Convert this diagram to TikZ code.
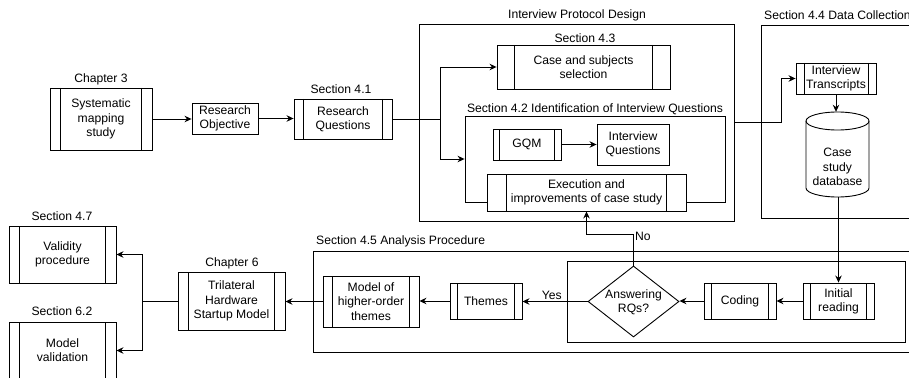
\documentclass[tikz,border=0pt]{standalone}
\usepackage{fontspec}
\setmainfont{Liberation Sans}
\usetikzlibrary{arrows.meta,calc,shapes.geometric}

\tikzset{
  every node/.style={font=\fontsize{12.15}{14.2}\selectfont},
  plainbox/.style={draw=black, fill=white, line width=0.9pt, align=center, inner sep=0pt},
  procbox/.style={plainbox, path picture={
      \draw[line width=0.9pt]
        ($(path picture bounding box.north west)!0.1!(path picture bounding box.north east)$) --
        ($(path picture bounding box.south west)!0.1!(path picture bounding box.south east)$)
        ($(path picture bounding box.north west)!0.9!(path picture bounding box.north east)$) --
        ($(path picture bounding box.south west)!0.9!(path picture bounding box.south east)$);
    }},
  frame/.style={draw=black, line width=0.9pt, inner sep=0pt},
  caption/.style={inner sep=0pt},
  wire/.style={line width=0.9pt},
  arr/.style={wire, -{Stealth[length=7pt,width=6.5pt]}},
}

\begin{document}
\begin{tikzpicture}[x=1pt,y=-1pt]
\useasboundingbox (0,0) rectangle (909,377);
\clip (0,0) rectangle (909,377);

% ---- container frames ----
\node[frame, minimum width=315, minimum height=197] (ipd) at (576.5,122.5) {};
\node[caption] (ipdlab) at (577,15) {Interview Protocol Design};
\node[frame, minimum width=260, minimum height=86] (s42) at (595,159) {};
\node[caption] (s42lab) at (595,109) {Section 4.2 Identification of Interview Questions};
\draw[wire] (930,25) -- (761,25) -- (761,218) -- (930,218);
\node[caption, anchor=west] (dclab) at (764,15) {Section 4.4 Data Collection};
\draw[wire] (930,251) -- (313,251) -- (313,352) -- (930,352);
\node[caption, anchor=west] (s45lab) at (316,241) {Section 4.5 Analysis Procedure};
\node[frame, minimum width=338, minimum height=81] (loop) at (736,301.5) {};

% ---- steps ----
\node[procbox, minimum width=102, minimum height=62] (sms) at (101,119) {Systematic\\mapping\\study};
\node[caption] (smslab) at (101,79) {Chapter 3};
\node[plainbox, minimum width=66, minimum height=31] (ro) at (225,118.5) {Research\\Objective};
\node[procbox, minimum width=98, minimum height=40] (rq) at (343,119) {Research\\Questions};
\node[caption] (rqlab) at (341,89) {Section 4.1};

\node[procbox, minimum width=173, minimum height=44] (case) at (583.5,67) {Case and subjects\\selection};
\node[caption] (caselab) at (585,38) {Section 4.3};
\node[procbox, minimum width=68, minimum height=31] (gqm) at (527,144.5) {GQM};
\node[plainbox, minimum width=72, minimum height=41] (iq) at (633,144.5) {Interview\\Questions};
\node[procbox, minimum width=199, minimum height=37] (exe) at (586.5,192.5) {Execution and\\improvements of case study};

\node[procbox, minimum width=80, minimum height=31] (it) at (836,78.5) {Interview\\Transcripts};
% database cylinder
\node[inner sep=0pt, minimum width=63, minimum height=85] (db) at (837.5,154.5) {};
\draw[wire, fill=white] (806,121) -- (806,188) arc[start angle=180, end angle=0, x radius=31.5, y radius=9]
  -- (869,121) arc[start angle=0, end angle=-180, x radius=31.5, y radius=9] -- cycle;
\draw[wire] (806,121) arc[start angle=180, end angle=0, x radius=31.5, y radius=9];
\node[align=center, inner sep=0pt] (dbtext) at (837.5,167) {Case\\study\\database};

\node[procbox, minimum width=71, minimum height=36] (ir) at (838.5,301) {Initial\\reading};
\node[procbox, minimum width=72, minimum height=36] (coding) at (740,301) {Coding};
\node[diamond, draw=black, fill=white, line width=0.9pt, inner sep=0pt, minimum width=91, minimum height=71] (ans) at (633.5,301.5) {};
\node[align=center, inner sep=0pt] (anstext) at (633.5,302) {Answering\\RQs?};
\node[procbox, minimum width=72, minimum height=36] (themes) at (486,301) {Themes};
\node[procbox, minimum width=96, minimum height=51] (mho) at (371,301.5) {Model of\\higher-order\\themes};

\node[procbox, minimum width=107, minimum height=58] (tri) at (231.5,301) {Trilateral\\Hardware\\Startup Model};
\node[caption] (trilab) at (232,263) {Chapter 6};
\node[procbox, minimum width=107, minimum height=57] (vp) at (62.5,254.5) {Validity\\procedure};
\node[caption] (vplab) at (62,216) {Section 4.7};
\node[procbox, minimum width=107, minimum height=57] (mv) at (62.5,350.5) {Model\\validation};
\node[caption] (mvlab) at (62,311) {Section 6.2};

% ---- connectors ----
\draw[arr] (sms.east) -- (sms.east -| ro.west);
\draw[arr] (ro.east) -- (ro.east -| rq.west);
\coordinate (split1) at (440,119);
\draw[wire] (rq.east) -- (split1);
\draw[arr] (split1) |- (case.west);
\draw[arr] (split1) |- (s42.west);
\draw[arr] (gqm.east) -- (gqm.east -| iq.west);

\coordinate (bend1) at (781,122.5);
\draw[arr] (ipd.east) -- (bend1) |- (it.west);
\draw[arr] (it.south) -- (it.south |- db.north);
\draw[arr] (db.south -| ir.north) -- (ir.north);
\draw[arr] (ir.west) -- (coding.east);
\draw[arr] (coding.west) -- (coding.west -| ans.east);
\draw[arr] (ans.west) -- node[pos=0.55, anchor=south, inner sep=1.5pt] (yes) {Yes} (ans.west -| themes.east);
\coordinate (nobend) at (633.5,234);
\draw[arr] (ans.north) -- (nobend) -| (exe.south);
\node[anchor=west, inner sep=0pt] (no) at (635,236.5) {No};
\draw[arr] (themes.west) -- (themes.west -| mho.east);
\draw[arr] (mho.west) -- (mho.west -| tri.east);
\coordinate (split2) at (142,301);
\draw[wire] (tri.west) -- (split2);
\draw[arr] (split2) |- (vp.east);
\draw[arr] (split2) |- (mv.east);
\end{tikzpicture}
\end{document}
